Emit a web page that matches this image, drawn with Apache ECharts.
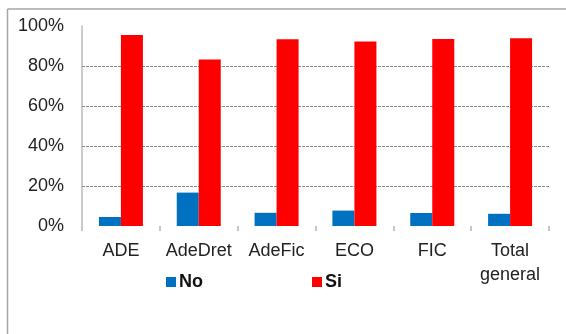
<!DOCTYPE html>
<html>
<head>
<meta charset="utf-8">
<style>
html,body{margin:0;padding:0;background:#fff;}
#c{width:566px;height:334px;}
</style>
<script src="https://cdn.jsdelivr.net/npm/echarts@6/dist/echarts.min.js"></script>
</head>
<body>
<div id="c"></div>
<script>
const categories = ['ADE', 'AdeDret', 'AdeFic', 'ECO', 'FIC', 'Total general'];
const noValues = [4.5, 16.7, 6.6, 7.7, 6.5, 6.1];
const siValues = [95.5, 83.3, 93.4, 92.3, 93.5, 93.9];
const yTicks = [0, 20, 40, 60, 80, 100];
const gridValues = [20, 40, 60, 80];

const FONT = "'Liberation Sans', Arial, sans-serif";
const chart = echarts.init(document.getElementById('c'));
chart.setOption({
  animation: false,
  backgroundColor: '#fff',
  grid: { left: 82, right: 17, top: 26, bottom: 108, containLabel: false },
  legend: [
    { left: 161, top: 268, itemWidth: 10, itemHeight: 10, itemGap: 0, icon: 'rect',
      data: ['No'], textStyle: { fontFamily: FONT, fontSize: 18, fontWeight: 'bold', color: '#111', padding: [0,0,0,-2] } },
    { left: 307, top: 268, itemWidth: 10, itemHeight: 10, itemGap: 0, icon: 'rect',
      data: ['Si'], textStyle: { fontFamily: FONT, fontSize: 18, fontWeight: 'bold', color: '#111', padding: [0,0,0,-2] } }
  ],
  xAxis: {
    type: 'category',
    data: categories,
    axisLine: { show: false },
    axisTick: { show: true, length: 5, lineStyle: { color: '#b5b5b5', width: 1.5 } },
    axisLabel: {
      interval: 0,
      margin: 13,
      fontFamily: FONT, fontSize: 18, color: '#222', lineHeight: 24,
      formatter: v => v.replace(' ', '\n')
    }
  },
  yAxis: {
    type: 'value',
    min: 0, max: 100, interval: 20,
    axisLine: { show: true, lineStyle: { color: '#bbb', width: 1.5 } },
    axisTick: { show: false },
    splitLine: { show: false },
    axisLabel: {
      margin: 18,
      fontFamily: FONT, fontSize: 18, color: '#222',
      formatter: v => yTicks.includes(v) ? v + '%' : ''
    }
  },
  series: [
    { name: 'No', type: 'bar', data: noValues, barWidth: 22, barGap: '0%', z: 3,
      itemStyle: { color: '#0070C0' },
      markLine: {
        silent: true, symbol: 'none', label: { show: false }, z: 1,
        lineStyle: { color: '#8c8c8c', width: 1, type: [3, 1] },
        data: gridValues.map(v => ({ yAxis: v }))
      } },
    { name: 'Si', type: 'bar', data: siValues, barWidth: 22, barGap: '0%', z: 3,
      itemStyle: { color: '#FF0000' } }
  ],
  graphic: [
    { type: 'line', shape: { x1: 7.5, y1: 9, x2: 566, y2: 9 }, style: { stroke: '#a6a6a6', lineWidth: 1.5 }, z: 100 },
    { type: 'line', shape: { x1: 7.5, y1: 9, x2: 7.5, y2: 334 }, style: { stroke: '#a6a6a6', lineWidth: 1.5 }, z: 100 }
  ]
});
</script>
</body>
</html>
